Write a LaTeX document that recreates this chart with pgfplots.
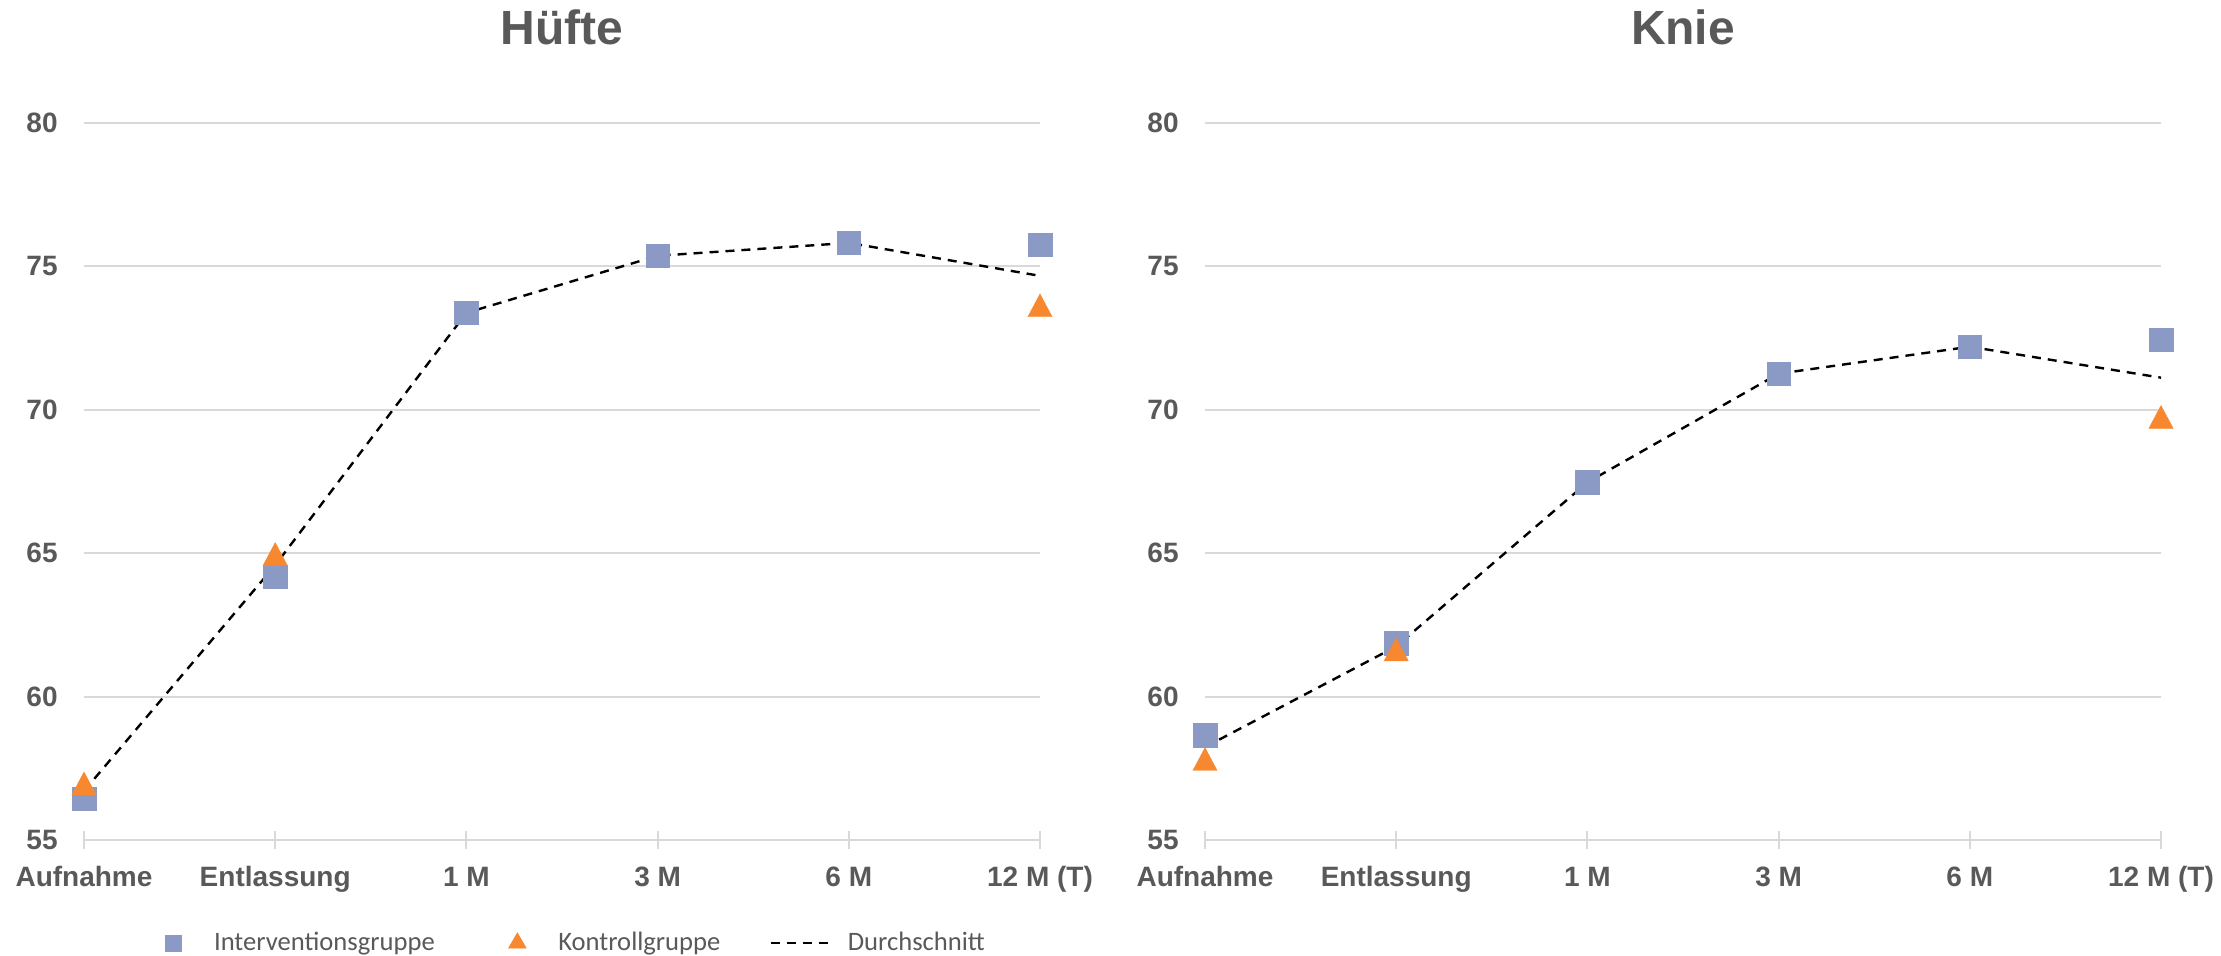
\documentclass[border=0pt]{standalone}
\usepackage{pgfplots}
\pgfplotsset{compat=1.18}
\usepackage{fontspec}
\setmainfont{Liberation Sans}
\newfontfamily\legfont{Carlito}
\definecolor{txtgray}{HTML}{595959}
\definecolor{gridgray}{HTML}{D9D9D9}
\definecolor{sqblue}{HTML}{8A9AC5}
\definecolor{triorange}{HTML}{F7882F}
\pgfplotsset{
 myaxis/.style={
  scale only axis, width=478pt, height=358.5pt,
  xmin=0, xmax=5, ymin=55, ymax=80,
  xtick={0,...,5}, xticklabels={Aufnahme,Entlassung,1 M,3 M,6 M,12 M (T)},
  ytick={55,60,...,80},
  axis x line*=bottom, axis y line*=left,
  y axis line style={draw=none},
  x axis line style={draw=gridgray, line width=1pt},
  ymajorgrids, grid style={draw=gridgray, line width=1pt},
  ytick style={draw=none},
  xtick style={draw=gridgray, line width=1pt},
  major tick length=9pt, xtick align=center,
  tick label style={font=\fontsize{14}{16}\selectfont\bfseries, text=txtgray},
  /pgf/number format/assume math mode=true,
  yticklabel style={anchor=east, inner sep=0pt, xshift=-13pt},
  xticklabel style={anchor=base, inner sep=0pt, yshift=-18.5pt},
  title style={font=\fontsize{24}{28}\selectfont\bfseries, text=txtgray, at={(0.5,1)}, anchor=base, yshift=33.5pt},
  clip=false,
 },
 sqplot/.style={only marks, mark=square*, mark size=5.9pt, color=sqblue, mark options={line width=0.2pt}},
 triplot/.style={only marks, mark=triangle*, mark size=7.6pt, color=triorange, mark options={xscale=0.92, line width=0.2pt}},
 avgplot/.style={black, line width=1.2pt, dash pattern=on 4.5pt off 3.5pt, mark=none},
 legmark/.style={legend image code/.code={\path[draw=none, fill=none] (0pt,-4pt) rectangle (17pt,4pt); \draw[##1] plot coordinates {(8.5pt,0pt)};}},
 legline/.style={legend image code/.code={\draw[##1] (0pt,0pt) -- (31.5pt,0pt);}},
}
\begin{document}
\begin{tikzpicture}
\useasboundingbox (0,0) rectangle (1110.5pt,477.5pt);
\begin{axis}[myaxis, at={(42pt,57.5pt)}, anchor=south west, title={Hüfte},
  legend columns=3, legend cell align=left,
  legend style={draw=none, fill=none, at={(0.076,-0.1437)}, anchor=west,
    inner sep=0pt, outer sep=0pt, nodes={inner sep=0pt},
    font=\legfont\fontsize{13.3}{15}\selectfont, text=txtgray,
    /tikz/column 1/.style={column sep=11.7pt},
    /tikz/column 2/.style={column sep=32.8pt},
    /tikz/column 3/.style={column sep=12pt},
    /tikz/column 4/.style={column sep=24.5pt},
    /tikz/column 5/.style={column sep=6.5pt}}]
\addplot[sqplot, forget plot] coordinates {(0,56.44) (1,64.18) (2,73.38) (3,75.37) (4,75.82) (5,75.75)};
\addplot[triplot, forget plot] coordinates {(0,56.84) (1,64.84) (5,73.51)};
\addplot[avgplot, forget plot] coordinates {(0,56.71) (1,64.58) (2,73.38) (3,75.37) (4,75.82) (5,74.67)};
\addlegendimage{legmark, only marks, mark=square*, mark size=4pt, color=sqblue}
\addlegendentry{Interventionsgruppe}
\addlegendimage{legmark, only marks, mark=triangle*, mark size=5pt, color=triorange}
\addlegendentry{Kontrollgruppe}
\addlegendimage{legline, black, line width=1.2pt, dash pattern=on 4.5pt off 3.5pt}
\addlegendentry{Durchschnitt}
\end{axis}
\begin{axis}[myaxis, at={(602.5pt,57.5pt)}, anchor=south west, title={Knie}]
\addplot[sqplot] coordinates {(0,58.65) (1,61.86) (2,67.47) (3,71.26) (4,72.20) (5,72.45)};
\addplot[triplot] coordinates {(0,57.69) (1,61.51) (5,69.62)};
\addplot[avgplot] coordinates {(0,58.24) (1,61.75) (2,67.47) (3,71.26) (4,72.20) (5,71.12)};
\end{axis}
\end{tikzpicture}
\end{document}
